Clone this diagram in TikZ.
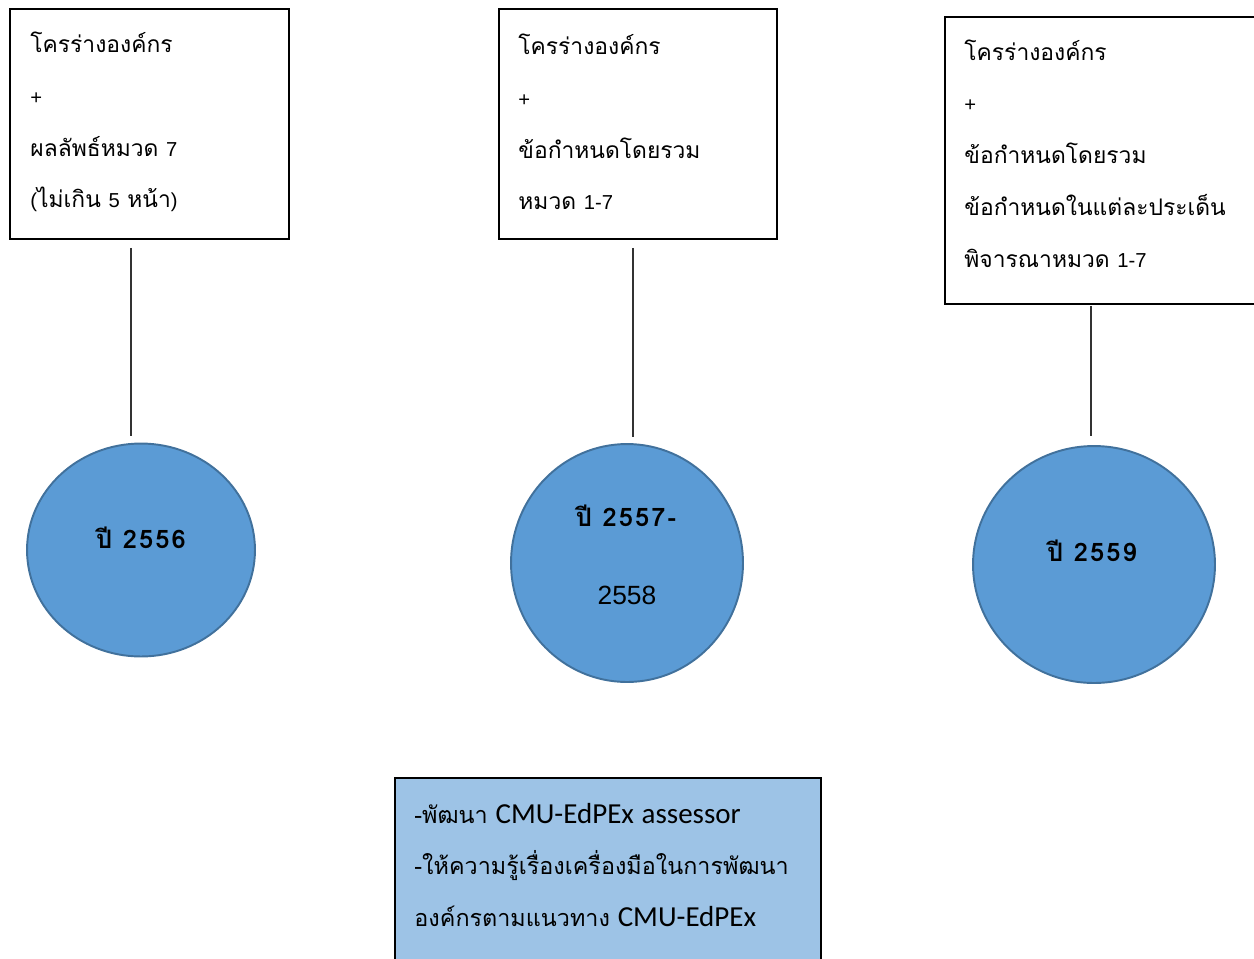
\documentclass[tikz,border=0pt]{standalone}
\usepackage{fontspec}
\usetikzlibrary{shapes.geometric}
\setmainfont{Liberation Sans}
\newfontfamily\thaifont[Script=Thai]{Loma}
\newfontfamily\yearfont[Script=Thai,LetterSpace=8]{Loma}
\newfontfamily\calibrifont{Carlito}
\newcommand{\num}[1]{{\rmfamily\fontsize{11.5}{12}\selectfont #1}}
\newcommand{\latinpart}[1]{{\calibrifont\fontsize{16.5}{29.5}\selectfont #1}}
\definecolor{circfill}{HTML}{5B9BD5}
\definecolor{circline}{HTML}{41719C}
\definecolor{notefill}{HTML}{9DC3E6}

\begin{document}
\begin{tikzpicture}[x=0.02cm,y=-0.02cm,
  stagebox/.style={draw=black, line width=1.1pt, inner sep=0pt},
  boxtext/.style={anchor=west, align=left, inner sep=0pt,
    font=\thaifont\fontsize{13}{29.5}\selectfont},
  yearcirc/.style={ellipse, draw=circline, fill=circfill, line width=1.1pt, inner sep=0pt},
  yeartext/.style={font=\yearfont\bfseries\fontsize{14.5}{15}\selectfont},
  link/.style={draw=black!80, line width=0.6pt}]
\useasboundingbox (0,0) rectangle (1254,958);
\clip (0,0) rectangle (1254,958);

% stage boxes
\node[stagebox, minimum width=5.58cm, minimum height=4.6cm] (box1) at (149.5,124) {};
\node[stagebox, minimum width=5.56cm, minimum height=4.6cm] (box2) at (638,124) {};
\node[stagebox, minimum width=6.4cm, minimum height=5.74cm] (box3) at (1105,160.5) {};
\node[boxtext, text width=4.76cm] (t1) at ([shift={(21,-2)}]box1.west)
  {โครร่างองค์กร\\\num{+}\\ผลลัพธ์หมวด \num{7}\\\num{(}ไม่เกิน \num{5} หน้า\num{)}};
\node[boxtext, text width=4.74cm] (t2) at ([shift={(20,-2)}]box2.west)
  {โครร่างองค์กร\\\num{+}\\ข้อกำหนดโดยรวม\\หมวด \num{1-7}};
\node[boxtext, text width=5.6cm] (t3) at ([shift={(20,-7)}]box3.west)
  {โครร่างองค์กร\\\num{+}\\ข้อกำหนดโดยรวม\\\mbox{ข้อกำหนดในแต่ละประเด็น}\\พิจารณาหมวด \num{1-7}};

% year circles
\node[yearcirc, minimum width=4.56cm, minimum height=4.26cm] (c1) at (141,550) {};
\node[yearcirc, minimum width=4.64cm, minimum height=4.76cm] (c2) at (627,563) {};
\node[yearcirc, minimum width=4.84cm, minimum height=4.74cm] (c3) at (1094,564.5) {};
\node[yeartext] (y1) at (141,538) {ปี 2556};
\node[yeartext] (y2) at (626,516) {ปี 2557-};
\node[font=\fontsize{15}{18}\selectfont] (y2b) at (627,595) {2558};
\node[yeartext] (y3) at (1092,551) {ปี 2559};

% links
\draw[link] ([shift={(-18.5,8)}]box1.south) -- ([shift={(-10,-6.5)}]c1.north);
\draw[link] ([shift={(-5,8)}]box2.south) -- ([shift={(6,-6)}]c2.north);
\draw[link] ([shift={(-14,1)}]box3.south) -- ([shift={(-3,-9)}]c3.north);

% note box
\node[stagebox, fill=notefill, minimum width=8.52cm, minimum height=3.76cm] (note) at (608,872) {};
\node[boxtext, text width=7.72cm, font=\thaifont\fontsize{13.3}{29.5}\selectfont] (t4)
  at ([shift={(20,-7)}]note.west)
  {\mbox{-พัฒนา \latinpart{CMU-EdPEx assessor}}\\
   \mbox{-ให้ความรู้เรื่องเครื่องมือในการพัฒนา}\\
   \mbox{องค์กรตามแนวทาง \latinpart{CMU-EdPEx}}};
\end{tikzpicture}
\end{document}
